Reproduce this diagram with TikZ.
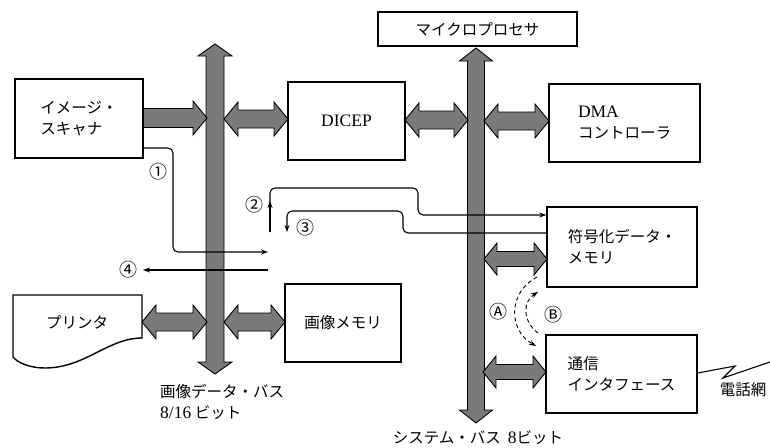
\documentclass[tikz,border=0pt]{standalone}
\usepackage{fontspec}
\setmainfont{Liberation Serif}
\newfontfamily\jp{Noto Sans CJK JP}
\usetikzlibrary{arrows.meta}
\newcommand\jpf{\jp\fontsize{15.5}{21}\selectfont}
\newcommand\laf{\rmfamily\fontsize{17.5}{21}\selectfont}
\newcommand\HDbl[6]{%
 \filldraw[busarrow] (#1,#3) -- ({#1+#6},{#3-#5}) -- ({#1+#6},{#3-#4}) -- ({#2-#6},{#3-#4}) -- ({#2-#6},{#3-#5}) -- (#2,#3) -- ({#2-#6},{#3+#5}) -- ({#2-#6},{#3+#4}) -- ({#1+#6},{#3+#4}) -- ({#1+#6},{#3+#5}) -- cycle;}
\newcommand\HSgl[6]{%
 \filldraw[busarrow] (#1,{#3-#4}) -- ({#2-#6},{#3-#4}) -- ({#2-#6},{#3-#5}) -- (#2,#3) -- ({#2-#6},{#3+#5}) -- ({#2-#6},{#3+#4}) -- (#1,{#3+#4}) -- cycle;}
\newcommand\VDbl[6]{%
 \filldraw[busarrow] (#1,#2) -- ({#1+#5},{#2+#6}) -- ({#1+#4},{#2+#6}) -- ({#1+#4},{#3-#6}) -- ({#1+#5},{#3-#6}) -- (#1,#3) -- ({#1-#5},{#3-#6}) -- ({#1-#4},{#3-#6}) -- ({#1-#4},{#2+#6}) -- ({#1-#5},{#2+#6}) -- cycle;}
\tikzset{
  busarrow/.style={fill=black!52, draw=black, line width=0.9pt, line join=miter},
  box/.style={draw, line width=1.4pt, fill=white, inner sep=0pt, align=left, font=\jpf},
  flow/.style={line width=1.1pt, rounded corners=5pt},
  tip/.style={-{Stealth[length=7pt,width=5pt]}},
  lbl/.style={font=\jp\fontsize{18}{18}\selectfont, inner sep=0pt},
  txt/.style={font=\jpf, inner sep=0pt, align=left},
  dashedarc/.style={line width=0.9pt, dash pattern=on 4pt off 3pt}
}
\begin{document}
\begin{tikzpicture}[x=1pt,y=-1pt]
\useasboundingbox (0,0) rectangle (770,447);
% buses
\VDbl{215}{44}{374}{9}{17}{12}
\VDbl{476}{48}{423}{8.5}{16.5}{13}
% horizontal bus arrows
\HSgl{143}{207}{118}{9.5}{17}{14}
\HDbl{224}{288}{119}{9}{17}{14}
\HDbl{405}{468}{120}{9}{17}{14}
\HDbl{484}{549}{121}{9}{17}{14}
\HDbl{142}{207}{322}{9}{17}{14}
\HDbl{224}{285}{322}{9}{17}{14}
\HDbl{484}{547}{259}{7.5}{16}{13}
\HDbl{483}{546}{372}{7.5}{16}{13}
% boxes
\node[box, minimum width=128pt, minimum height=79pt] (scanner) at (79,118.5) {イメージ・\\スキャナ};
\node[box, minimum width=117pt, minimum height=78pt, font=\laf] (dicep) at (346.5,121) {DICEP};
\node[box, minimum width=199pt, minimum height=34pt] (mpu) at (477.5,29) {マイクロプロセサ};
\node[box, minimum width=151pt, minimum height=78pt] (dma) at (624.5,123) {{\laf DMA}\\コントローラ};
\node[box, minimum width=150pt, minimum height=80pt] (codemem) at (622,247) {符号化データ・\\メモリ};
\node[box, minimum width=151pt, minimum height=78pt] (comm) at (621.5,374) {通信\\インタフェース};
\node[box, minimum width=116pt, minimum height=78pt] (imgmem) at (343,323) {画像メモリ};
% printer
\filldraw[line width=1.4pt, fill=white] (13,295) -- (142,295) -- (142,338)
  .. controls (108,338) and (85,368) .. (45,368)
  .. controls (30,368) and (18,363) .. (13,357) -- cycle;
\node[txt] (printer) at (77,322) {プリンタ};
% flow paths
\coordinate (f1a) at (143,148);
\coordinate (f1b) at (268,252);
\draw[flow,tip] (f1a) -- (173,148) -- (173,252) -- (f1b);
\coordinate (f4a) at (268,270);
\coordinate (f4b) at (143,270);
\draw[flow,tip] (f4a) -- (f4b);
\coordinate (f2a) at (270,232);
\coordinate (f2m) at (270,201);
\coordinate (f2b) at (codemem.west |- 0,215);
\draw[flow,tip] (f2a) -- (f2m);
\draw[flow,tip] (f2a) -- (270,188) -- (418,188) -- (418,215) -- (f2b);
\coordinate (f3a) at (codemem.west |- 0,233);
\coordinate (f3b) at (287,232);
\draw[flow,tip] (f3a) -- (403,233) -- (403,211) -- (287,211) -- (f3b);
% dashed arcs
\coordinate (aA) at (537,277);
\coordinate (aB) at (536,346);
\draw[dashedarc,tip] (aA) .. controls (508,292) and (508,330) .. (aB);
\coordinate (bA) at (538,333);
\coordinate (bB) at (538,292);
\draw[dashedarc,tip] (bA) .. controls (523,322) and (522,302) .. (bB);
% phone line
\coordinate (ph) at (770,362);
\draw[line width=1.1pt] (comm.east |- 0,373) -- (735,366) -- (723,378) -- (ph);
% labels
\node[lbl] (l1) at (158,172) {①};
\node[lbl] (l2) at (254,205) {②};
\node[lbl] (l3) at (305,228) {③};
\node[lbl] (l4) at (128,270) {④};
\node[lbl] (lA) at (498,312) {Ⓐ};
\node[lbl] (lB) at (553,315) {Ⓑ};
\node[txt, anchor=west] (ibus1) at (160,392) {画像データ・バス};
\node[txt, anchor=west] (ibus2) at (160,413) {{\laf 8/16} ビット};
\node[txt] (sbus) at (478,438) {システム・バス\ \ {\laf 8}ビット};
\node[txt] (tel) at (743,390) {電話網};
\end{tikzpicture}
\end{document}
